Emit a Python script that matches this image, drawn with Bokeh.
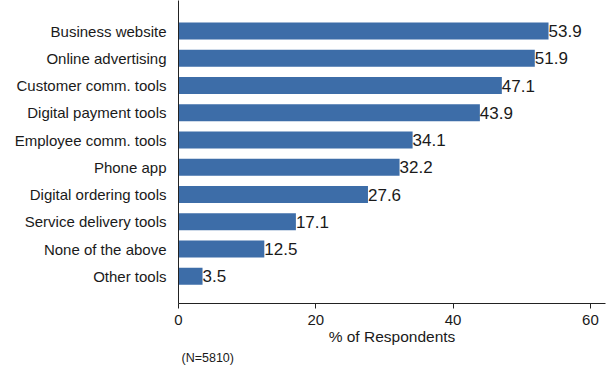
from bokeh.plotting import figure
from bokeh.models import ColumnDataSource, Range1d, FixedTicker, Title
from bokeh.core.properties import value
from bokeh.embed import file_html
from bokeh.resources import INLINE

categories = ["Business website", "Online advertising", "Customer comm. tools",
              "Digital payment tools", "Employee comm. tools", "Phone app",
              "Digital ordering tools", "Service delivery tools",
              "None of the above", "Other tools"]
percent = [53.9, 51.9, 47.1, 43.9, 34.1, 32.2, 27.6, 17.1, 12.5, 3.5]
x_ticks = [0, 20, 40, 60]
note = "(N=5810)"

n = len(categories)
ypos = [n - i for i in range(n)]
labels = ["%.1f" % v for v in percent]

src = ColumnDataSource(dict(y=ypos, pct=percent, lab=labels, cat=categories))

FONT = "Liberation Sans"
BAR = "#3d6da8"
TXT = "#1a1a1a"

p = figure(width=607, height=368, output_backend="svg", toolbar_location=None,
           x_range=Range1d(0, 62.2), y_range=Range1d(0, 11.12),
           min_border_left=178, min_border_right=2, min_border_top=0,
           min_border_bottom=65)
p.outline_line_color = None
p.grid.grid_line_color = None
p.background_fill_color = "white"

p.hbar(y="y", left=0, right="pct", height=0.62, source=src,
       fill_color=BAR, line_color=None)
p.text(x="pct", y="y", text="lab", source=src, x_offset=0,
       text_baseline="middle", text_align="left",
       text_font=value(FONT), text_font_size="17px", text_color=TXT)

# x axis
xa = p.xaxis[0]
xa.ticker = FixedTicker(ticks=x_ticks)
xa.axis_label = "% of Respondents"
xa.axis_label_text_font = FONT
xa.axis_label_text_font_style = "normal"
xa.axis_label_text_font_size = "15.5px"
xa.axis_label_text_color = TXT
xa.axis_label_standoff = 0
xa.major_label_text_font = FONT
xa.major_label_text_font_size = "15px"
xa.major_label_text_color = TXT
xa.major_label_standoff = 6
xa.major_tick_out = 5
xa.major_tick_in = 0
xa.minor_tick_line_color = None
xa.axis_line_color = "#222222"
xa.major_tick_line_color = "#222222"

# y axis
ya = p.yaxis[0]
ya.ticker = FixedTicker(ticks=ypos)
ya.major_label_overrides = {y: c for y, c in zip(ypos, categories)}
ya.major_label_text_font = FONT
ya.major_label_text_font_size = "15px"
ya.major_label_text_color = TXT
ya.major_label_standoff = 6
ya.major_tick_line_color = None
ya.minor_tick_line_color = None
ya.axis_line_color = "#222222"

p.add_layout(Title(text=note, align="left", offset=3, standoff=2,
                   text_font=FONT, text_font_size="12.5px",
                   text_font_style="normal", text_color=TXT), "below")

open("out.html", "w").write(file_html(p, INLINE))
